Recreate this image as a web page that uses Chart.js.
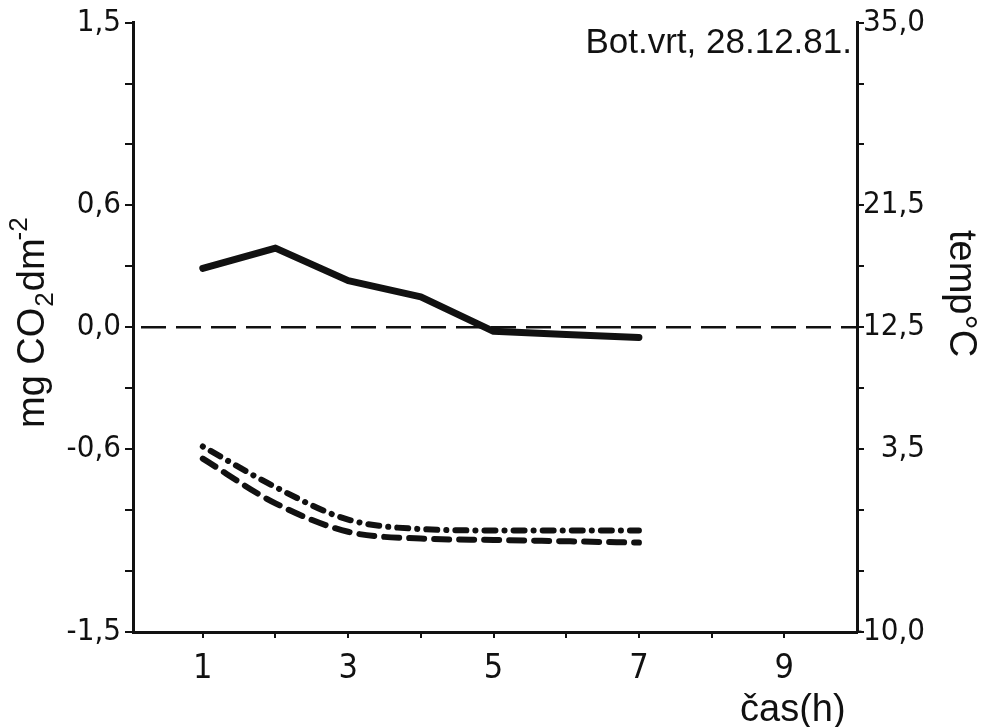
<!DOCTYPE html>
<html>
<head>
<meta charset="utf-8">
<script src="https://cdn.jsdelivr.net/npm/chart.js@4"></script>
<style>
body{margin:0;background:#fff}
canvas{display:block}
</style>
</head>
<body>
<canvas id="chart" width="990" height="727"></canvas>
<script>

// hours of measurement
const hours = [1,2,3,4,5,6,7]
// CO2 exchange, mg CO2 dm-2 (left axis)
const co2 = [0.29, 0.39, 0.23, 0.15, -0.02, -0.035, -0.05]
// temperatures, deg C (right axis)
const tempDashDot = [3.7, 0.7, -1.7, -2.4, -2.5, -2.5, -2.5]
const tempDashed = [2.8, -0.5, -2.6, -3.1, -3.2, -3.3, -3.4]
const zeroLevel = 0

const xTickLabels = [1,3,5,7,9]
const leftTickLabels = [-1.5,-0.6,0,0.6,1.5]
const rightTickLabels = [-10,3.5,12.5,21.5,35]

const narrow = "'Liberation Sans Narrow','DejaVu Sans Condensed',sans-serif"
const wide = "'Liberation Sans',Arial,sans-serif"

function pts(ys){
return hours.map((h,i)=>({x:h, y:ys[i]}))
}

function comma(v, list){
let hit = list.find(l => Math.abs(l - v) < 1e-6)
if(hit === undefined) return ""
return hit.toFixed(1).replace(".", ",")
}

const extraText = {
id:"extraText",
afterDraw(chart){
let c = chart.ctx
c.save()
c.fillStyle = "#111"
c.textBaseline = "alphabetic"

// left title with sub and superscript
c.save()
c.translate(44, 428)
c.rotate(-Math.PI/2)
c.textAlign = "left"
let x = 0
c.font = "38px " + wide
c.fillText("mg CO", x, 0); x += c.measureText("mg CO").width
c.font = "26px " + wide
c.fillText("2", x + 1, 9); x += c.measureText("2").width + 2
c.font = "38px " + wide
c.fillText("dm", x, 0); x += c.measureText("dm").width
c.font = "26px " + wide
c.fillText("-2", x - 2, -17)
c.restore()

// right title
c.save()
c.translate(950, 230)
c.rotate(Math.PI/2)
c.textAlign = "left"
c.font = "38px " + wide
c.fillText("temp°C", 0, 0)
c.restore()

c.font = "38px " + wide
c.textAlign = "left"
c.fillText("čas(h)", 740, 721)

c.font = "35px " + wide
c.textAlign = "right"
c.fillText("Bot.vrt, 28.12.81.", 852, 53)
c.restore()
}
}

new Chart(document.getElementById("chart"), {
type:"line",
data:{
datasets:[
{
data:[{x:0.15, y:zeroLevel},{x:10, y:zeroLevel}],
yAxisID:"y",
borderColor:"#111",
borderWidth:2.5,
borderDash:[25,10],
pointRadius:0
},
{
data:pts(co2),
yAxisID:"y",
borderColor:"#111",
borderWidth:7,
borderJoinStyle:"round",
borderCapStyle:"round",
pointRadius:0
},
{
data:pts(tempDashDot),
yAxisID:"y2",
borderColor:"#111",
borderWidth:6,
borderDash:[0.1,9,11,9],
borderCapStyle:"round",
cubicInterpolationMode:"monotone",
pointRadius:0
},
{
data:pts(tempDashed),
yAxisID:"y2",
borderColor:"#111",
borderWidth:6,
borderDash:[15,10],
borderCapStyle:"round",
cubicInterpolationMode:"monotone",
pointRadius:0
}
]
},
options:{
responsive:false,
animation:false,
layout:{padding:{top:22,left:0,right:65,bottom:0}},
plugins:{legend:{display:false},tooltip:{enabled:false}},
scales:{
x:{
type:"linear",
min:0.04,
max:10,
afterFit(s){ s.height = 95 },
afterBuildTicks(s){ s.ticks = s.ticks.filter(t => t.value >= 1 && t.value <= 9 && Number.isInteger(t.value)) },
border:{color:"#111", width:3},
grid:{drawOnChartArea:false, color:"#111", lineWidth:2, tickLength:6},
ticks:{
stepSize:1,
includeBounds:false,
autoSkip:false,
maxRotation:0,
padding:11,
color:"#111",
font:{family:narrow, size:34},
callback:v => xTickLabels.includes(v) ? String(v) : ""
}
},
y:{
position:"left",
min:-1.5,
max:1.5,
afterFit(s){ s.width = 133 },
border:{color:"#111", width:3},
grid:{drawOnChartArea:false, color:"#111", lineWidth:2, tickLength:8},
ticks:{
stepSize:0.3,
autoSkip:false,
padding:4,
color:"#111",
font:{family:narrow, size:31},
callback:v => comma(v, leftTickLabels)
}
},
y2:{
position:"right",
min:-10,
max:35,
afterFit(s){ s.width = 68 },
border:{color:"#111", width:3},
grid:{drawOnChartArea:false, color:"#111", lineWidth:2, tickLength:7},
ticks:{
stepSize:4.5,
autoSkip:false,
padding:-2,
crossAlign:"far",
color:"#111",
font:{family:narrow, size:31},
callback:v => comma(v, rightTickLabels)
}
}
}
},
plugins:[extraText]
})

</script>
</body>
</html>
